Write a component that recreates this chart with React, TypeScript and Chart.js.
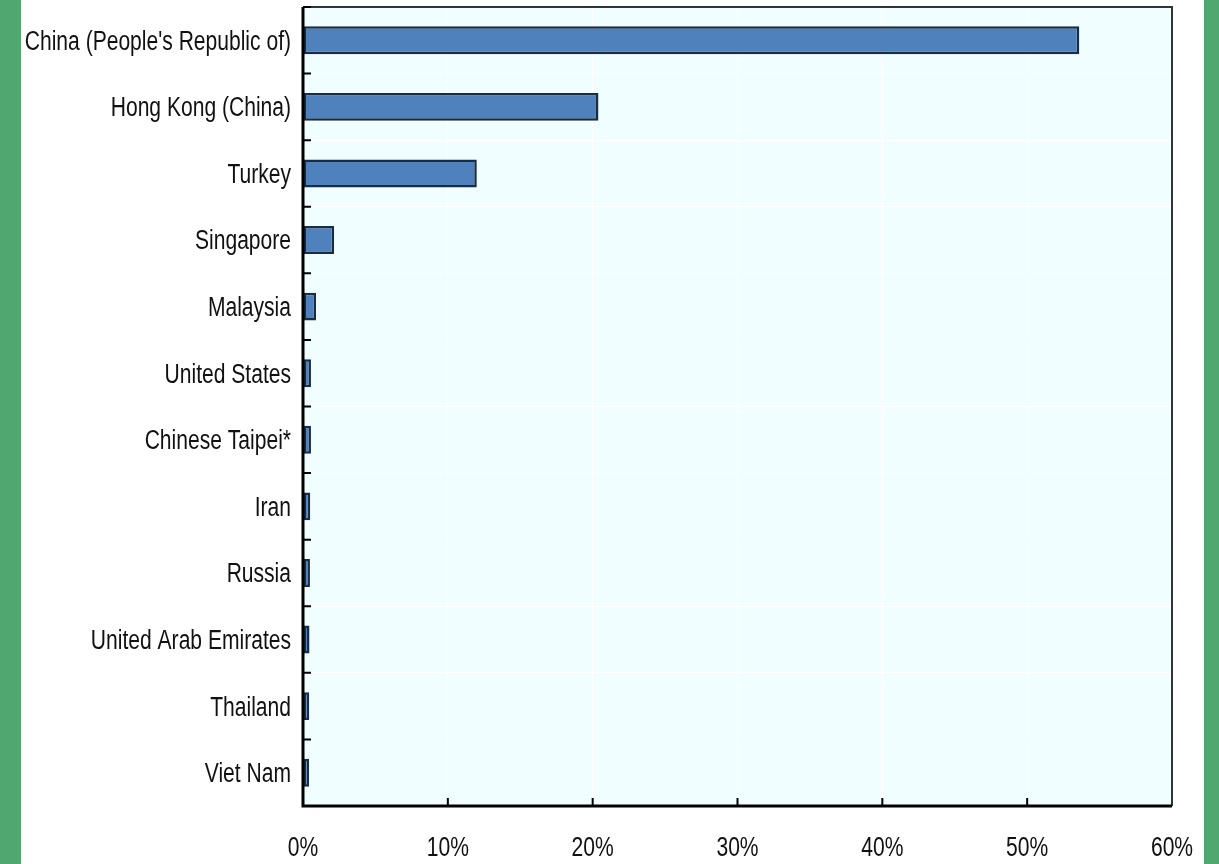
import React, { useEffect, useRef } from "react";
import { Chart, registerables } from "chart.js";

Chart.register(...registerables);

const categories = [
  "China (People's Republic of)",
  "Hong Kong (China)",
  "Turkey",
  "Singapore",
  "Malaysia",
  "United States",
  "Chinese Taipei*",
  "Iran",
  "Russia",
  "United Arab Emirates",
  "Thailand",
  "Viet Nam",
];
const shares = [53.6, 20.4, 12.0, 2.15, 0.9, 0.55, 0.55, 0.5, 0.48, 0.45, 0.43, 0.42];
const xTicks = [0, 10, 20, 30, 40, 50, 60];

const FONT = "27px 'Liberation Sans', Arial, sans-serif";
const SQUEEZE = 0.78;

function drawNarrow(ctx: any, text: string, x: number, y: number, align: string) {
  ctx.save();
  ctx.translate(x, y);
  ctx.scale(SQUEEZE, 1);
  ctx.textAlign = align;
  ctx.textBaseline = "middle";
  ctx.fillText(text, 0, 0);
  ctx.restore();
}

const framePlugin = {
  id: "frame",
  afterDatasetsDraw(chart: any) {
    const { ctx, chartArea } = chart;
    const { left, right, top, bottom } = chartArea;
    const xs = chart.scales.x;
    const ys = chart.scales.y;
    ctx.save();
    // top & right border
    ctx.strokeStyle = "#333333";
    ctx.lineWidth = 2;
    ctx.beginPath();
    ctx.moveTo(left, top);
    ctx.lineTo(right, top);
    ctx.lineTo(right, bottom);
    ctx.stroke();
    // left & bottom axis
    ctx.strokeStyle = "#000000";
    ctx.lineWidth = 3;
    ctx.beginPath();
    ctx.moveTo(left, top);
    ctx.lineTo(left, bottom);
    ctx.lineTo(right, bottom);
    ctx.stroke();
    // inward ticks
    ctx.lineWidth = 2;
    ctx.beginPath();
    const n = categories.length;
    const step = ys.getPixelForValue(1) - ys.getPixelForValue(0);
    for (let i = 0; i <= n; i++) {
      const y = i < n ? ys.getPixelForValue(i) - step / 2 : bottom;
      ctx.moveTo(left, y);
      ctx.lineTo(left + 8, y);
    }
    xTicks.forEach((v) => {
      if (v === 0 || v === 60) return;
      const x = xs.getPixelForValue(v);
      ctx.moveTo(x, bottom);
      ctx.lineTo(x, bottom - 8);
    });
    ctx.stroke();
    // labels
    ctx.fillStyle = "#111111";
    ctx.font = FONT;
    categories.forEach((c, i) => {
      drawNarrow(ctx, c, left - 12, ys.getPixelForValue(i) + 2, "right");
    });
    xTicks.forEach((v) => {
      drawNarrow(ctx, v + "%", xs.getPixelForValue(v), bottom + 43, "center");
    });
    ctx.restore();
  },
};

const bgPlugin = {
  id: "plotbg",
  beforeDraw(chart: any) {
    const { ctx, chartArea } = chart;
    ctx.save();
    ctx.fillStyle = "#f0feff";
    ctx.fillRect(chartArea.left, chartArea.top, chartArea.right - chartArea.left, chartArea.bottom - chartArea.top);
    ctx.restore();
  },
};

export default function App() {
  const ref = useRef<HTMLCanvasElement | null>(null);
  useEffect(() => {
    document.body.style.margin = "0";
    const chart = new Chart(ref.current!, {
      type: "bar",
      data: {
        labels: categories,
        datasets: [
          {
            data: shares,
            backgroundColor: "#4f81bd",
            borderColor: "#1a2c44",
            borderWidth: 2.5,
            borderSkipped: false,
            barPercentage: 0.42,
            categoryPercentage: 1,
          },
        ],
      },
      options: {
        indexAxis: "y",
        animation: false,
        responsive: false,
        devicePixelRatio: 1,
        layout: { padding: { top: 7, right: 47, left: 0, bottom: 0 } },
        plugins: { legend: { display: false }, tooltip: { enabled: false } },
        scales: {
          x: {
            min: 0,
            max: 60,
            afterBuildTicks: (s: any) => {
              s.ticks = xTicks.map((v) => ({ value: v }));
            },
            afterFit: (s: any) => {
              s.height = 58;
            },
            border: { display: false },
            grid: { color: "#ffffff", lineWidth: 1, drawTicks: false },
            ticks: { display: false },
          },
          y: {
            afterFit: (s: any) => {
              s.width = 303;
            },
            border: { display: false },
            grid: { color: "#ffffff", lineWidth: 1, drawTicks: false, offset: true },
            ticks: { display: false },
          },
        },
      },
      plugins: [bgPlugin, framePlugin],
    });
    return () => chart.destroy();
  }, []);

  return (
    <div style={{ position: "relative", width: 1219, height: 864, background: "#ffffff", overflow: "hidden" }}>
      <div style={{ position: "absolute", left: 0, top: 0, width: 21, height: 864, background: "#50a870" }} />
      <div style={{ position: "absolute", left: 1204, top: 0, width: 15, height: 864, background: "#50a870" }} />
      <canvas ref={ref} width={1219} height={864} style={{ position: "absolute", left: 0, top: 0 }} />
    </div>
  );
}
